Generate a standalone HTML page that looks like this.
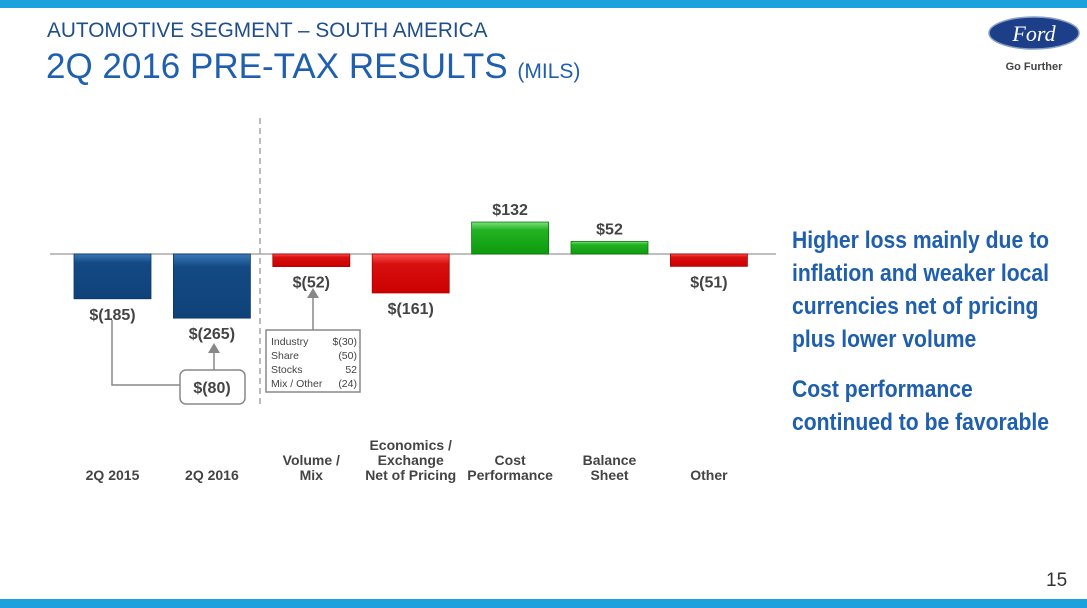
<!DOCTYPE html>
<html><head><meta charset="utf-8"><style>
body{margin:0;width:1087px;height:608px;overflow:hidden;background:#fff;font-family:"Liberation Sans",sans-serif;position:relative}
.abs{position:absolute}
</style></head><body>
<div class="abs" style="left:0;top:0;width:1087px;height:8px;background:#1ba1dd"></div>
<div class="abs" style="left:0;top:599px;width:1087px;height:9px;background:#1ba1dd"></div>
<div class="abs" style="left:47px;top:19px;font-size:21px;color:#1f4e8c;white-space:nowrap;transform:scaleX(0.99);transform-origin:left">AUTOMOTIVE SEGMENT – SOUTH AMERICA</div>
<div class="abs" style="left:46px;top:47px;font-size:35px;color:#1f5fae;white-space:nowrap;transform:scaleX(1.0);transform-origin:left">2Q 2016 PRE-TAX RESULTS <span style="font-size:21px">(MILS)</span></div>
<svg class="abs" style="left:986px;top:16px" width="96" height="60">
<ellipse cx="48" cy="17" rx="45" ry="16" fill="#1d3f8a" stroke="#8aa0c8" stroke-width="1.5"/>
<text x="48" y="25" text-anchor="middle" font-family="Liberation Serif" font-style="italic" font-size="22" fill="#fff">Ford</text>
<text x="48" y="54" text-anchor="middle" font-family="Liberation Sans" font-weight="bold" font-size="11" fill="#444">Go Further</text>
</svg>
<div class="abs" style="left:792px;top:224px;font-size:24px;font-weight:bold;color:#1f5fae;line-height:33px;white-space:nowrap;transform:scaleX(0.88);transform-origin:left">Higher loss mainly due to<br>inflation and weaker local<br>currencies net of pricing<br>plus lower volume<div style="height:17px"></div>Cost performance<br>continued to be favorable</div>
<div class="abs" style="left:1046px;top:570px;font-size:19px;color:#333">15</div>
<svg class="abs" id="chart" style="left:0;top:0" width="780" height="500">
<defs>
<linearGradient id="gb" x1="0" y1="0" x2="0" y2="1"><stop offset="0" stop-color="#3a78b8"/><stop offset="0.2" stop-color="#134a84"/><stop offset="1" stop-color="#0f4279"/></linearGradient>
<linearGradient id="gr" x1="0" y1="0" x2="0" y2="1"><stop offset="0" stop-color="#f55"/><stop offset="0.25" stop-color="#d81010"/><stop offset="1" stop-color="#c00"/></linearGradient>
<linearGradient id="gg" x1="0" y1="0" x2="0" y2="1"><stop offset="0" stop-color="#7de07d"/><stop offset="0.25" stop-color="#22b322"/><stop offset="1" stop-color="#0e9a0e"/></linearGradient>
</defs>
</svg>
<script>
const categories=[["2Q 2015"],["2Q 2016"],["Volume /","Mix"],["Economics /","Exchange","Net of Pricing"],["Cost","Performance"],["Balance","Sheet"],["Other"]];
const values=[-185,-265,-52,-161,132,52,-51];
const valueLabels=["$(185)","$(265)","$(52)","$(161)","$132","$52","$(51)"];
const kinds=["total","total","delta","delta","delta","delta","delta"];
const svg=document.getElementById('chart');const NS='http://www.w3.org/2000/svg';
const base=254,k=0.242,x0=74,step=99.4,bw=77;
const y=v=>base-v*k;
function mk(t,a){const e=document.createElementNS(NS,t);for(const p in a)e.setAttribute(p,a[p]);svg.appendChild(e);return e;}
const ax=mk('line',{x1:50,x2:776,y1:base,y2:base,stroke:'#999','stroke-width':1.2});


const dv=mk('line',{x1:260,x2:260,y1:118,y2:408,stroke:'#999','stroke-width':1.3,'stroke-dasharray':'6,4'});


values.forEach((v,i)=>{
 const x=x0+i*step;const top=Math.min(y(v),base),h=Math.abs(y(v)-base);
 const fill=kinds[i]=='total'?'url(#gb)':(v<0?'url(#gr)':'url(#gg)');
 const r=mk('rect',{x:x,y:top,width:bw,height:h,fill:fill,stroke:kinds[i]=='total'?'#0c3766':(v<0?'#a00':'#0a7a0a'),'stroke-width':0.8});
 
 
 const ly=v<0?y(v)+21:y(v)-7;
 const t=mk('text',{x:x+bw/2,y:ly,'text-anchor':'middle','font-size':16,'font-weight':'bold',fill:'#444'});
 t.textContent=valueLabels[i];
 
 
 const lines=categories[i];
 lines.forEach((s,j)=>{const c=mk('text',{x:x+bw/2,y:480-(lines.length-1-j)*15,'text-anchor':'middle','font-size':14,'font-weight':'bold',fill:'#444'});c.textContent=s;
 
 });
});
const g=[['path',{d:'M112 320 V385 H180',fill:'none',stroke:'#888','stroke-width':1.5}],['path',{d:'M214 370 V352',fill:'none',stroke:'#888','stroke-width':1.5}],['path',{d:'M208 353 L214 343 L220 353 Z',fill:'#888'}],
['rect',{x:180,y:370,width:65,height:34,rx:6,fill:'#fff',stroke:'#888','stroke-width':1.5}],
['path',{d:'M313 330 V297',fill:'none',stroke:'#888','stroke-width':1.5}],['path',{d:'M307 298 L313 288 L319 298 Z',fill:'#888'}],
['rect',{x:266,y:330,width:94,height:62,fill:'#fff',stroke:'#888','stroke-width':1.5}]];
g.forEach(([t,a])=>{const e=mk(t,a);});
const d=mk('text',{x:212,y:393,'text-anchor':'middle','font-size':16,'font-weight':'bold',fill:'#444'});d.textContent='$(80)';


const rows=[["Industry","$(30)"],["Share","(50)"],["Stocks","52"],["Mix / Other","(24)"]];
rows.forEach((r,i)=>{const a=mk('text',{x:271,y:345+i*14,'font-size':10.5,fill:'#444'});a.textContent=r[0];


const b=mk('text',{x:357,y:345+i*14,'font-size':10.5,fill:'#444','text-anchor':'end'});b.textContent=r[1];

});
</script>
</body></html>
